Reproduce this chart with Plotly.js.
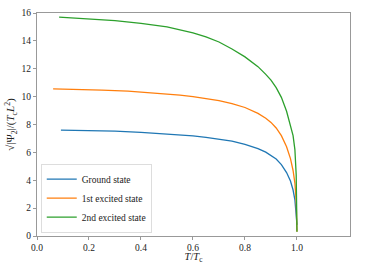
<!DOCTYPE html>
<html>
<head>
<meta charset="utf-8">
<script src="https://cdn.plot.ly/plotly-3.0.1.min.js"></script>
<style>html,body{margin:0;padding:0;background:#fff;}#chart{width:373px;height:263px;}</style>
</head>
<body>
<div id="chart"></div>
<script>
const groundT = [0.092,0.2,0.3,0.4,0.5,0.6,0.65,0.7,0.75,0.8,0.85,0.88,0.9,0.92,0.94,0.96,0.975,0.985,0.992,0.997,1.0];
const groundV = [7.60,7.57,7.52,7.44,7.33,7.18,7.08,6.96,6.80,6.58,6.27,6.02,5.80,5.52,5.12,4.55,3.95,3.30,2.6,1.7,0.8];
const firstT = [0.062,0.15,0.25,0.35,0.45,0.55,0.6,0.65,0.7,0.75,0.8,0.85,0.88,0.9,0.92,0.94,0.96,0.975,0.985,0.992,0.997,1.0];
const firstV = [10.55,10.52,10.47,10.39,10.27,10.11,10.0,9.87,9.71,9.50,9.22,8.80,8.45,8.15,7.75,7.2,6.4,5.55,4.7,3.8,2.5,0.3];
const secondT = [0.085,0.2,0.3,0.4,0.5,0.6,0.65,0.7,0.75,0.8,0.85,0.88,0.9,0.92,0.94,0.96,0.975,0.985,0.992,0.997,1.0];
const secondV = [15.70,15.60,15.46,15.26,15.0,14.58,14.28,13.92,13.42,12.85,12.15,11.6,11.18,10.65,9.95,8.95,7.9,7.2,6.2,4.4,0.3];
const names = ["Ground state","1st excited state","2nd excited state"];
const colors = ["#1f77b4","#ff7f0e","#2ca02c"];
const xTicks = [0,0.2,0.4,0.6,0.8,1.0];
const xTickText = ["0.0","0.2","0.4","0.6","0.8","1.0"];
const yTicks = [0,2,4,6,8,10,12,14,16];

const series = [[groundT,groundV],[firstT,firstV],[secondT,secondV]];
const data = series.map((s,i)=>({
  x:s[0], y:s[1], type:'scatter', mode:'lines', name:names[i],
  line:{color:colors[i], width:1.3, shape:'linear'}
}));

const axisCommon = {
  showgrid:false, zeroline:false, showline:true, linecolor:'#999', linewidth:1, mirror:true,
  ticks:'outside', ticklen:3, tickcolor:'#999', tickfont:{family:'Liberation Serif', size:9.5, color:'#222'}
};
const layout = {
  width:373, height:263,
  margin:{l:37, r:23, t:13, b:27},
  paper_bgcolor:'#fff', plot_bgcolor:'#fff',
  font:{family:'Liberation Serif', color:'#222'},
  showlegend:true,
  legend:{x:0.012, y:0.015, xanchor:'left', yanchor:'bottom', bgcolor:'rgba(255,255,255,0.8)',
          bordercolor:'#ddd', borderwidth:1, font:{family:'Liberation Serif', size:9.5, color:'#222'},
          tracegroupgap:0, itemwidth:30},
  xaxis:Object.assign({}, axisCommon, {range:[0,1.204], tickvals:xTicks, ticktext:xTickText, automargin:false,
    title:{text:'<i>T</i>/<i>T</i><sub>c</sub>', font:{family:'Liberation Serif', size:10.5}, standoff:0}}),
  yaxis:Object.assign({}, axisCommon, {range:[0,16], tickvals:yTicks,
    title:{text:'√|Ψ<sub>2</sub>|/(<i>T</i><sub>c</sub><i>L</i><sup>2</sup>)', font:{family:'Liberation Serif', size:11}, standoff:4}})
};
Plotly.newPlot('chart', data, layout, {displayModeBar:false, staticPlot:true}).then(()=>{
  const t = document.querySelector('.g-xtitle text');
  if (t) { t.setAttribute('y', String(parseFloat(t.getAttribute('y')) + 1)); }
});
</script>
</body>
</html>
